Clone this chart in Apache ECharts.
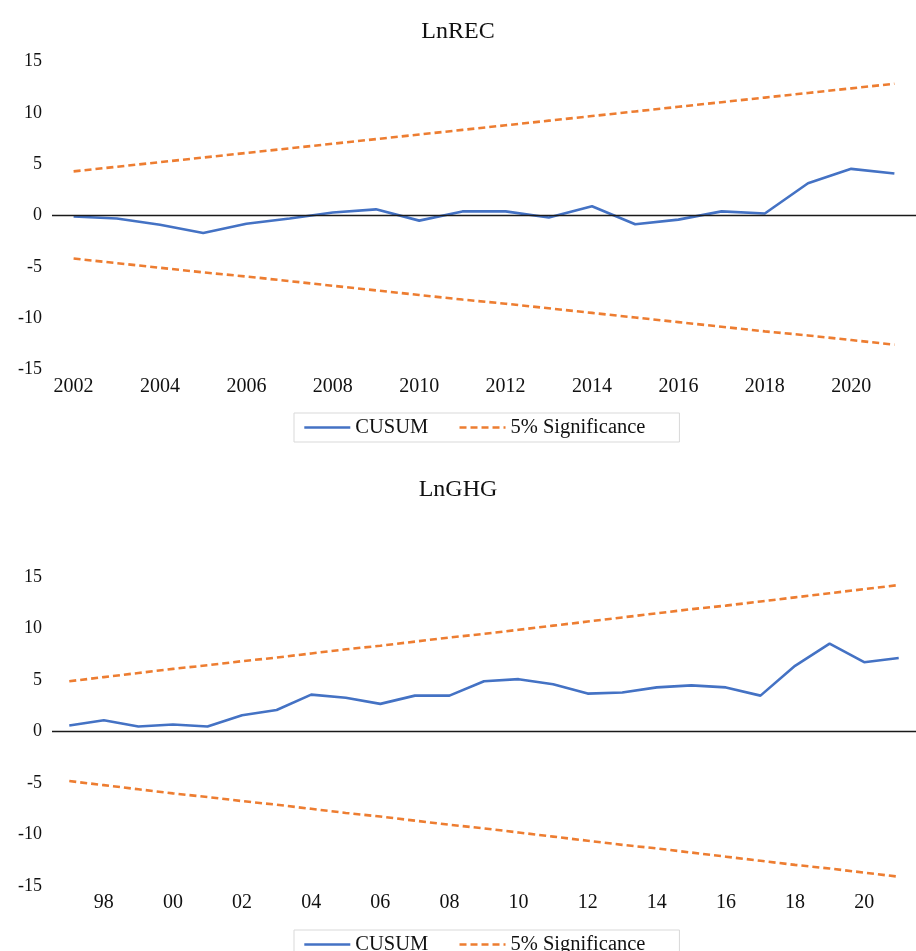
<!DOCTYPE html>
<html>
<head>
<meta charset="utf-8">
<script src="https://cdn.jsdelivr.net/npm/echarts@6/dist/echarts.min.js"></script>
<style>
  html, body { margin: 0; padding: 0; background: #fff; }
  #chart { width: 916px; height: 951px; }
</style>
</head>
<body>
<div id="chart"></div>
<script>
// CUSUM stability test, panel 1: LnREC (2002-2021)
const recYears = ['2002','2003','2004','2005','2006','2007','2008','2009','2010','2011',
                  '2012','2013','2014','2015','2016','2017','2018','2019','2020','2021'];
const recCusum = [-0.1, -0.3, -0.9, -1.7, -0.8, -0.3, 0.3, 0.6, -0.5, 0.4,
                  0.4, -0.2, 0.9, -0.85, -0.4, 0.4, 0.2, 3.15, 4.55, 4.1];
const recUpper = [4.3, 4.75, 5.2, 5.65, 6.1, 6.55, 7.0, 7.45, 7.9, 8.35,
                  8.8, 9.25, 9.7, 10.15, 10.6, 11.05, 11.5, 11.95, 12.4, 12.85];
const recLower = [-4.2, -4.65, -5.1, -5.55, -5.95, -6.4, -6.85, -7.3, -7.75, -8.2,
                  -8.6, -9.05, -9.5, -9.95, -10.4, -10.85, -11.3, -11.7, -12.15, -12.6];

// CUSUM stability test, panel 2: LnGHG (1997-2021)
const ghgYears = ['1997','1998','1999','2000','2001','2002','2003','2004','2005','2006',
                  '2007','2008','2009','2010','2011','2012','2013','2014','2015','2016',
                  '2017','2018','2019','2020','2021'];
const ghgTickLabels = ['97','98','99','00','01','02','03','04','05','06',
                       '07','08','09','10','11','12','13','14','15','16',
                       '17','18','19','20','21'];
const ghgCusum = [0.6, 1.1, 0.5, 0.7, 0.5, 1.6, 2.1, 3.6, 3.3, 2.7,
                  3.5, 3.5, 4.9, 5.1, 4.6, 3.7, 3.8, 4.3, 4.5, 4.3,
                  3.5, 6.4, 8.55, 6.75, 7.15];
const ghgUpper = [4.9, 5.3, 5.7, 6.1, 6.45, 6.85, 7.2, 7.6, 8.0, 8.35,
                  8.75, 9.15, 9.5, 9.9, 10.3, 10.7, 11.1, 11.5, 11.9, 12.25,
                  12.65, 13.05, 13.45, 13.85, 14.25];
const ghgLower = [-4.8, -5.2, -5.6, -6.0, -6.35, -6.75, -7.1, -7.5, -7.9, -8.25,
                  -8.65, -9.05, -9.4, -9.8, -10.2, -10.6, -11.0, -11.35, -11.75, -12.15,
                  -12.55, -12.95, -13.3, -13.7, -14.1];

const yTicks = { min: -15, max: 15, interval: 5 };

const FONT = "'Liberation Serif', 'Times New Roman', serif";
const BLUE = '#4472C4';
const ORANGE = '#ED7D31';
const TEXT = '#111';
const LINE_W = 2.6;

function xAxisFor(idx, cats, labelInterval, formatter) {
  return {
    type: 'category', gridIndex: idx, data: cats, boundaryGap: true,
    axisLine: { show: false, onZero: false },
    axisTick: { show: false },
    splitLine: { show: false },
    axisLabel: {
      interval: labelInterval, margin: 7,
      fontFamily: FONT, fontSize: 20, color: TEXT,
      formatter: formatter
    }
  };
}

function yAxisFor(idx) {
  return {
    type: 'value', gridIndex: idx,
    min: yTicks.min, max: yTicks.max, interval: yTicks.interval,
    axisLine: { show: false }, axisTick: { show: false },
    splitLine: { show: false },
    axisLabel: { margin: 10, fontFamily: FONT, fontSize: 18, color: TEXT }
  };
}

function seriesFor(idx, cusum, upper, lower) {
  const dashed = { color: ORANGE, width: LINE_W, type: [7, 4] };
  return [
    {
      name: 'zero', type: 'line', xAxisIndex: idx, yAxisIndex: idx, data: [], z: 1,
      markLine: {
        silent: true, symbol: 'none', label: { show: false }, animation: false,
        lineStyle: { type: 'solid', color: '#1a1a1a', width: 1.4 },
        data: [{ yAxis: 0 }]
      }
    },
    {
      name: '5% Significance', type: 'line', xAxisIndex: idx, yAxisIndex: idx,
      data: upper, showSymbol: false, lineStyle: dashed, itemStyle: { color: ORANGE }, z: 2
    },
    {
      name: '5% Significance', type: 'line', xAxisIndex: idx, yAxisIndex: idx,
      data: lower, showSymbol: false, lineStyle: dashed, itemStyle: { color: ORANGE }, z: 2
    },
    {
      name: 'CUSUM', type: 'line', xAxisIndex: idx, yAxisIndex: idx,
      data: cusum, showSymbol: false,
      lineStyle: { color: BLUE, width: LINE_W }, itemStyle: { color: BLUE }, z: 3
    }
  ];
}

function legendAt(top) {
  return {
    data: [
      { name: 'CUSUM', itemStyle: { opacity: 0 }, lineStyle: { color: BLUE, width: LINE_W, type: 'solid' } },
      { name: '5% Significance', itemStyle: { opacity: 0 }, lineStyle: { color: ORANGE, width: LINE_W, type: [7, 4] } }
    ],
    left: 294, top: top,
    itemWidth: 46, itemHeight: 14, itemGap: 30,
    padding: [4, 34, 4, 9],
    borderColor: '#d9d9d9', borderWidth: 1,
    selectedMode: false,
    textStyle: { fontFamily: FONT, fontSize: 20.5, color: TEXT }
  };
}

const chart = echarts.init(document.getElementById('chart'), null, { renderer: 'canvas' });
chart.setOption({
  animation: false,
  backgroundColor: '#fff',
  title: [
    { text: 'LnREC', left: 'center', top: 15,
      textStyle: { fontFamily: FONT, fontSize: 24, fontWeight: 'normal', color: TEXT } },
    { text: 'LnGHG', left: 'center', top: 473,
      textStyle: { fontFamily: FONT, fontSize: 24, fontWeight: 'normal', color: TEXT } }
  ],
  legend: [legendAt(413), legendAt(930)],
  grid: [
    { left: 52, width: 870, top: 61.7, height: 307.6 },
    { left: 52, width: 870, top: 577.3, height: 308.7 }
  ],
  xAxis: [
    xAxisFor(0, recYears, 1),
    xAxisFor(1, ghgYears, function (i) { return i % 2 === 1; },
             function (v, i) { return ghgTickLabels[i]; })
  ],
  yAxis: [yAxisFor(0), yAxisFor(1)],
  series: [].concat(
    seriesFor(0, recCusum, recUpper, recLower),
    seriesFor(1, ghgCusum, ghgUpper, ghgLower)
  )
});
</script>
</body>
</html>
